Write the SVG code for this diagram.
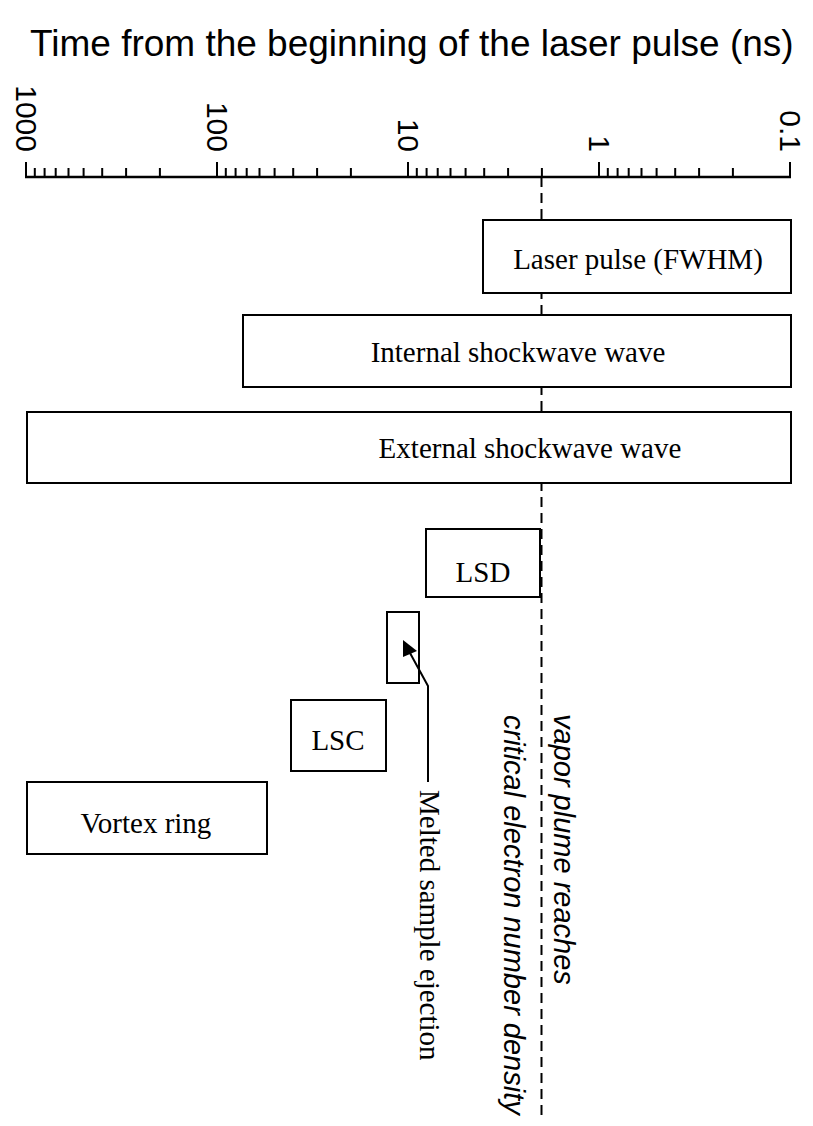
<svg xmlns="http://www.w3.org/2000/svg" width="813" height="1126" viewBox="0 0 813 1126">
<defs>
<style>
.ax{stroke:#000;stroke-width:2.5;fill:none}
.tk{stroke:#000;stroke-width:2;fill:none}
.box{fill:#fff;stroke:#000;stroke-width:2}
.bt{font-family:"Liberation Serif","Times New Roman",serif;font-size:29px;text-anchor:middle;fill:#000}
.lab{font-family:"Liberation Sans",Arial,sans-serif;font-size:30px;text-anchor:end;fill:#000}
.it{font-family:"Liberation Sans",Arial,sans-serif;font-size:29px;font-style:italic;fill:#000}
.ser{font-family:"Liberation Serif","Times New Roman",serif;font-size:29px;fill:#000}
</style>
</defs>
<rect width="813" height="1126" fill="#fff"/>
<text x="30" y="56" font-family="Liberation Sans,Arial,sans-serif" font-size="37" fill="#000">Time from the beginning of the laser pulse (ns)</text>
<g id="axis">
<line class="ax" x1="25" y1="177" x2="791" y2="177"/>
<path class="tk" d="M26,162V177M217,162V177M408,162V177M599,162V177M790,162V177"/>
<path class="tk" d="M34.8,168V177M44.6,168V177M55.7,168V177M68.5,168V177M83.6,168V177M102.2,168V177M126.1,168V177M159.9,168V177
M225.8,168V177M235.6,168V177M246.7,168V177M259.5,168V177M274.6,168V177M293.2,168V177M317.1,168V177M350.9,168V177
M416.8,168V177M426.6,168V177M437.7,168V177M450.5,168V177M465.6,168V177M484.2,168V177M508.1,168V177M541.9,168V177
M607.8,168V177M617.6,168V177M628.7,168V177M641.5,168V177M656.6,168V177M675.2,168V177M699.1,168V177M732.9,168V177"/>
<text class="lab" transform="translate(16,152) rotate(90)">1000</text>
<text class="lab" transform="translate(207,152) rotate(90)">100</text>
<text class="lab" transform="translate(398,152) rotate(90)">10</text>
<text class="lab" transform="translate(589,152) rotate(90)">1</text>
<text class="lab" transform="translate(780,152) rotate(90)">0.1</text>
</g>
<g id="guide">
<line x1="541.5" y1="177" x2="541.5" y2="1120" stroke="#000" stroke-width="2" stroke-dasharray="10,6"/>
</g>
<g id="laser"><rect class="box" x="483" y="220" width="308" height="73"/><text class="bt" x="638" y="269">Laser pulse (FWHM)</text></g>
<g id="internal"><rect class="box" x="243" y="315" width="548" height="72"/><text class="bt" x="518" y="362">Internal shockwave wave</text></g>
<g id="external"><rect class="box" x="27" y="412" width="764" height="71"/><text class="bt" x="530" y="458">External shockwave wave</text></g>
<g id="lsd"><rect class="box" x="426" y="529" width="114" height="68"/><text class="bt" x="483" y="582">LSD</text></g>
<g id="melt-box"><rect class="box" x="387" y="612" width="32" height="71"/></g>
<g id="lsc"><rect class="box" x="291" y="700" width="95" height="71"/><text class="bt" x="338" y="750">LSC</text></g>
<g id="vortex"><rect class="box" x="27" y="782" width="240" height="72"/><text class="bt" x="146" y="833">Vortex ring</text></g>
<g id="connectors">
<polyline points="428,782 428,686 410,653" fill="none" stroke="#000" stroke-width="2"/>
<polygon points="403,640 403,657 417,651" fill="#000"/>
</g>
<g id="labels">
<text class="it" transform="translate(554,714) rotate(90)">vapor plume reaches</text>
<text class="it" transform="translate(504,715) rotate(90)">critical electron number density</text>
<text class="ser" transform="translate(420,790) rotate(90)">Melted sample ejection</text>
</g>
</svg>
